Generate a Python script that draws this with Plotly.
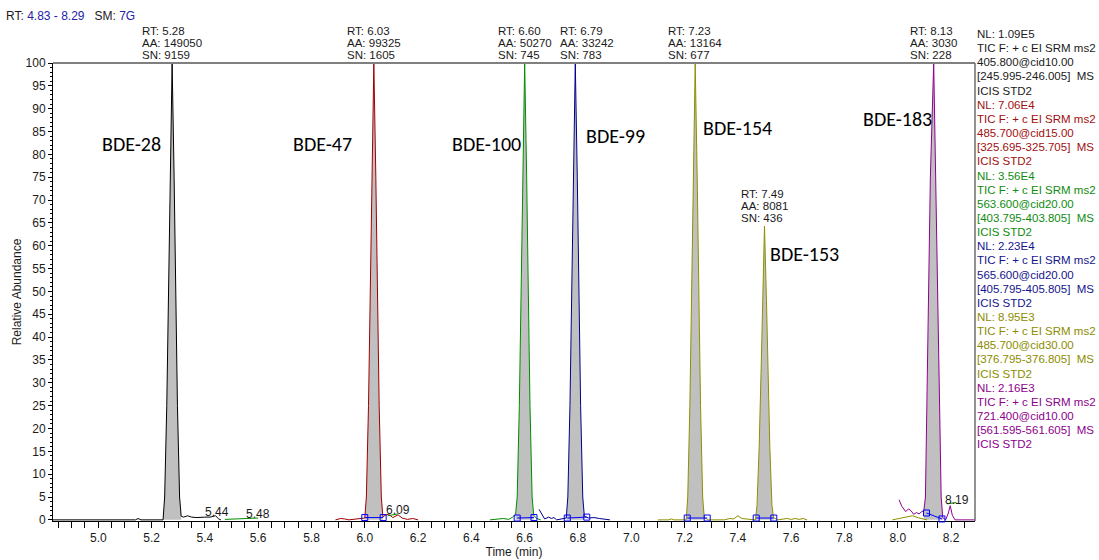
import plotly.graph_objects as go

# ---------------- data ----------------
t_black = [4.83, 5.14, 5.149, 5.16, 5.243, 5.249, 5.257, 5.264, 5.2695, 5.277, 5.2845, 5.290, 5.297, 5.305, 5.311,
           5.32, 5.335, 5.35, 5.37, 5.40, 5.42, 5.44, 5.452, 5.46]
i_black = [0, 0, 0.3, 0, 0, 5, 25, 50, 75, 100, 75, 50, 25, 5, 0.8,
           0.6, 0.9, 0.6, 0.5, 0.6, 0.6, 0.9, 0.2, 0]

t_red = [5.89, 5.91, 5.925, 5.94, 6.000, 6.006, 6.014, 6.021, 6.0265, 6.034, 6.0415, 6.047, 6.054, 6.062, 6.068,
         6.08, 6.09, 6.105, 6.125, 6.14, 6.16, 6.18, 6.19, 6.20]
i_red = [0, 0.3, 0.2, 0, 0.4, 5, 25, 50, 75, 100, 75, 50, 25, 5, 0.7,
         1.1, 1.2, 0.5, 1.1, 0.4, 0.1, 0.3, 0.1, 0]

t_green = [5.475, 5.60, None, 6.086, 6.124, None, 8.186, 8.22, None,
           6.47, 6.50, 6.52, 6.54, 6.555, 6.566, 6.572, 6.580, 6.587, 6.5925, 6.600, 6.6075, 6.613, 6.620, 6.628,
           6.634, 6.645, 6.66]
i_green = [0.1, 0.4, None, 0.9, 1.3, None, 3.5, 3.8, None,
           0, 0.1, 0.3, 0.1, 0.6, 1.2, 5, 25, 50, 75, 100, 75, 50, 25, 5,
           1.0, 0.3, 0]

t_navy = [6.654, 6.675, 6.69, 6.70, 6.71, 6.72, 6.756, 6.762, 6.770, 6.777, 6.7825, 6.790, 6.7975, 6.803, 6.810,
          6.818, 6.824, 6.84, 6.86, 6.88, 6.90, 6.92]
i_navy = [2.3, 0.2, 0.6, 0.3, 0.5, 0, 0.4, 5, 25, 50, 75, 100, 75, 50, 25,
          5, 0.8, 0.4, 0.5, 0.3, 0.2, 0]

t_olive = [7.10, 7.14, 7.15, 7.16, 7.206, 7.212, 7.220, 7.227, 7.2325, 7.240, 7.2475, 7.253, 7.260, 7.268, 7.274,
           7.29, 7.35, 7.37, 7.385, 7.40, 7.415, 7.43, 7.45, 7.466, 7.472, 7.480, 7.487, 7.4925, 7.500, 7.5075,
           7.513, 7.520, 7.528, 7.534, 7.55, 7.57, 7.585, 7.60, 7.615, 7.63, 7.645, 7.66, None,
           7.98, 8.03, 8.055, 8.08, 8.11]
i_olive = [0, 0, 0.2, 0, 0, 5, 25, 50, 75, 100, 75, 50, 25, 5, 0.5,
           0, 0, 0.3, 0.2, 0.9, 0.3, 0.2, 0, 0, 3.2, 16, 32, 48, 64.3, 48,
           32, 16, 3.2, 0.5, 0, 0.2, 0.3, 0.1, 0.3, 0.1, 0.3, 0, None,
           0, 0.5, 0.9, 0.4, 0]

t_purple = [8.005, 8.015, 8.03, 8.04, 8.05, 8.06, 8.07, 8.08, 8.09, 8.098, 8.104, 8.110, 8.117, 8.1225, 8.135,
            8.1425, 8.148, 8.155, 8.163, 8.169, 8.18, 8.19, 8.197, 8.205, 8.215, 8.29]
i_purple = [4.4, 3.0, 1.8, 2.4, 2.0, 1.2, 1.6, 1.3, 1.8, 2.0, 5, 25, 50, 75, 100,
            75, 50, 25, 5, 0.5, 0, 1.5, 3.1, 1.0, 0, 0]

# integration baselines (start, end) per peak
int_start_t = [6.000, 6.572, 6.760, 7.210, 7.469, 8.108]
int_start_i = [0.5, 0.4, 0.4, 0.4, 0.4, 1.5]
int_end_t = [6.069, 6.635, 6.833, 7.285, 7.535, 8.166]
int_end_i = [0.5, 0.5, 0.6, 0.4, 0.4, 0.2]

# peaks
peak_names = ["BDE-28", "BDE-47", "BDE-100", "BDE-99", "BDE-154", "BDE-153", "BDE-183"]
peak_rt = ["5.28", "6.03", "6.60", "6.79", "7.23", "7.49", "8.13"]
peak_aa = ["149050", "99325", "50270", "33242", "13164", "8081", "3030"]
peak_sn = ["9159", "1605", "745", "783", "677", "436", "228"]
peak_apex_t = [5.277, 6.034, 6.600, 6.790, 7.240, 7.500, 8.135]
peak_apex_i = [100, 100, 100, 100, 100, 64.3, 100]
peak_windows = [(5.243, 5.311), (6.000, 6.069), (6.566, 6.634), (6.756, 6.824),
                (7.206, 7.274), (7.466, 7.534), (8.098, 8.169)]

minor_labels = ["5.44", "5.48", "6.09", "8.19"]
minor_label_t = [5.444, 5.599, 6.124, 8.222]
minor_label_i = [1.7, 1.3, 2.25, 4.4]

legend_nl = ["NL: 1.09E5", "NL: 7.06E4", "NL: 3.56E4", "NL: 2.23E4", "NL: 8.95E3", "NL: 2.16E3"]
legend_prec = ["405.800@cid10.00", "485.700@cid15.00", "563.600@cid20.00",
               "565.600@cid20.00", "485.700@cid30.00", "721.400@cid10.00"]
legend_range = ["[245.995-246.005]", "[325.695-325.705]", "[403.795-403.805]",
                "[405.795-405.805]", "[376.795-376.805]", "[561.595-561.605]"]

# ---------------- styles ----------------
C_BLACK = "#000000"
C_RED = "#a00000"
C_GREEN = "#008c00"
C_NAVY = "#00008c"
C_OLIVE = "#8f8f00"
C_PURPLE = "#8f008f"
C_FILL = "#c0c0c0"
C_INT = "#0000ff"
C_TEXT = "#1a1a1a"
FONT = "Arial, Liberation Sans, sans-serif"
LABEL_FONT = "Carlito, Lato, sans-serif"

traces = [(t_black, i_black, C_BLACK), (t_red, i_red, C_RED), (t_green, i_green, C_GREEN),
          (t_navy, i_navy, C_NAVY), (t_olive, i_olive, C_OLIVE), (t_purple, i_purple, C_PURPLE)]

fig = go.Figure()

# gray filled peak areas
for (lo, hi) in peak_windows:
    for tt, ii, _c in traces:
        xs = [a for a, b in zip(tt, ii) if a is not None and lo - 1e-9 <= a <= hi + 1e-9]
        ys = [b for a, b in zip(tt, ii) if a is not None and lo - 1e-9 <= a <= hi + 1e-9]
        if len(xs) >= 5 and max(ys) > 20:
            fig.add_trace(go.Scatter(x=xs, y=ys, mode="lines", fill="tozeroy", fillcolor=C_FILL,
                                     line=dict(width=0), hoverinfo="skip", showlegend=False))

# chromatogram lines
for tt, ii, c in traces:
    fig.add_trace(go.Scatter(x=tt, y=ii, mode="lines", line=dict(color=c, width=1),
                             connectgaps=False, showlegend=False))

# integration baselines with square markers
for a, b, c, d in zip(int_start_t, int_start_i, int_end_t, int_end_i):
    fig.add_trace(go.Scatter(x=[a, c], y=[b, d], mode="lines+markers",
                             line=dict(color=C_INT, width=1),
                             marker=dict(symbol="square-open", size=6, color=C_INT, line=dict(width=1)),
                             cliponaxis=False, showlegend=False))

# ---------------- annotations ----------------
L, R, T, B = 53, 975, 63, 521
W, H = 1099, 560


def px(xp):
    return (xp - L) / (R - L)


def py(yp):
    return (B - yp) / (B - T)


CW = {"A": 0.667, "R": 0.722, "T": 0.611, "S": 0.667, "N": 0.722, ":": 0.278, " ": 0.278, ".": 0.278}


def text_w(s, size):
    return sum(CW.get(ch, 0.556) for ch in s) * size


ann = []
FS_PK = 11.5
pk_label_dx = [0, 0, 0, 12, 0, 0, 0]   # the instrument nudges crowded labels sideways
for k in range(len(peak_names)):
    lines = ["RT: " + peak_rt[k], "AA: " + peak_aa[k], "SN: " + peak_sn[k]]
    half = max(text_w(s, FS_PK) for s in lines) / 2
    for j, s in enumerate(lines):
        ann.append(dict(x=peak_apex_t[k], y=peak_apex_i[k], xref="x", yref="y", text=s, showarrow=False,
                        xanchor="left", yanchor="middle", xshift=-half - 1 + pk_label_dx[k], yshift=32 - 12 * j,
                        font=dict(family=FONT, size=FS_PK, color=C_TEXT), borderpad=0))

label_pos_t = [5.123, 5.843, 6.457, 6.941, 7.398, 7.649, 7.998]
label_pos_i = [82.3, 82.3, 82.3, 84.1, 85.8, 58.3, 87.8]
for name, xt, yi in zip(peak_names, label_pos_t, label_pos_i):
    ann.append(dict(x=xt, y=yi, xref="x", yref="y", text=name, showarrow=False,
                    font=dict(family=LABEL_FONT, size=20, color="#000000")))

for s, xt, yi in zip(minor_labels, minor_label_t, minor_label_i):
    ann.append(dict(x=xt, y=yi, xref="x", yref="y", text=s, showarrow=False,
                    font=dict(family=FONT, size=12, color=C_TEXT)))

# header
ann.append(dict(x=px(5), y=py(16.5), xref="paper", yref="paper", xanchor="left", yanchor="middle",
                showarrow=False, borderpad=0,
                text=("RT: <span style='color:#2323a8'>4.83 - 8.29</span>\u00a0\u00a0\u00a0SM: "
                      "<span style='color:#2323a8'>7G</span>"),
                font=dict(family=FONT, size=12, color=C_TEXT)))

# right-side trace descriptions
leg_text_colors = ["#1a1a1a", "#a01010", "#108c10", "#14148c", "#8c8c00", "#8c008c"]
row = 0
for n in range(6):
    block = [legend_nl[n], "TIC F: + c EI SRM ms2", legend_prec[n],
             legend_range[n] + "\u00a0\u00a0MS", "ICIS STD2"]
    for s in block:
        ann.append(dict(x=px(976), y=py(34 + row * 14.15), xref="paper", yref="paper",
                        xanchor="left", yanchor="middle", showarrow=False, text=s, borderpad=0,
                        font=dict(family=FONT, size=11.5, color=leg_text_colors[n])))
        row += 1

shapes = [
    dict(type="line", xref="paper", yref="paper", x0=0, x1=1, y0=1, y1=1,
         line=dict(color="#808080", width=2)),
    dict(type="line", xref="paper", yref="paper", x0=1, x1=1, y0=0, y1=1,
         line=dict(color="#6e6e6e", width=1.5)),
]

fig.update_layout(
    width=W, height=H,
    margin=dict(l=L, r=W - R, t=T, b=H - B, autoexpand=False),
    paper_bgcolor="white", plot_bgcolor="white",
    showlegend=False,
    annotations=ann,
    shapes=shapes,
    xaxis=dict(range=[4.83, 8.29], showgrid=False, zeroline=False, automargin=False,
               showline=True, linecolor="#000000", linewidth=1,
               ticks="outside", ticklen=6, tickcolor="#000000", tickwidth=1,
               tick0=5.0, dtick=0.2, tickformat=".1f",
               minor=dict(dtick=0.05, tick0=5.0, ticklen=6, tickcolor="#000000", ticks="outside", showgrid=False),
               tickfont=dict(family=FONT, size=12, color=C_TEXT),
               title=dict(text="Time (min)", font=dict(family=FONT, size=12, color=C_TEXT), standoff=2),
               layer="below traces"),
    yaxis=dict(range=[-0.25, 100], showgrid=False, zeroline=False, automargin=False,
               showline=True, linecolor="#000000", linewidth=1,
               ticks="outside", ticklen=4, tickcolor="#000000", tickwidth=1,
               tick0=0, dtick=5,
               minor=dict(dtick=1, ticklen=2.5, tickcolor="#000000", ticks="outside", showgrid=False),
               tickfont=dict(family=FONT, size=12, color=C_TEXT),
               title=dict(text="Relative Abundance", font=dict(family=FONT, size=12, color=C_TEXT), standoff=1),
               layer="below traces"),
)

fig.write_html("out.html", config={"displayModeBar": False},
               post_script="document.body.style.margin='0px';")
